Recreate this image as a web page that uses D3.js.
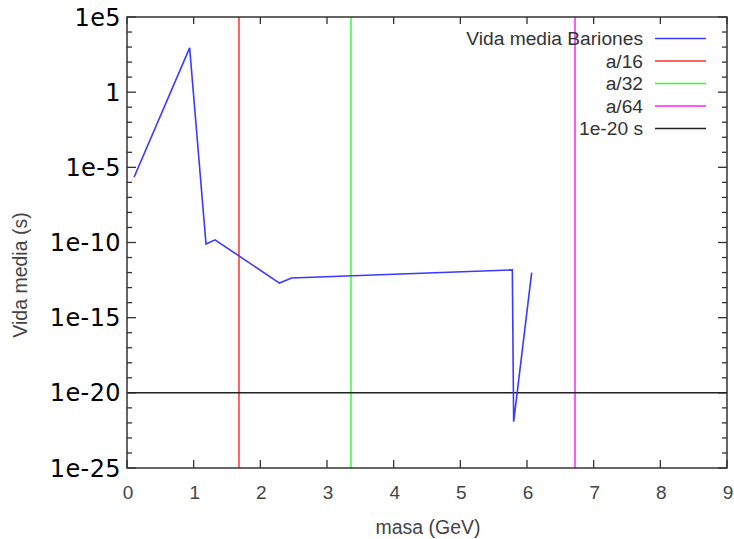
<!DOCTYPE html>
<html><head><meta charset="utf-8">
<script src="https://cdn.jsdelivr.net/npm/d3@7"></script>
<style>body{margin:0;background:#fff}svg{display:block}</style>
</head><body>
<svg id="c" width="734" height="539"></svg>
<script>
const masses = [0.1057, 0.9396, 1.185, 1.32, 2.286, 2.47, 5.78, 5.80, 6.07];
const lifetimes = [2.2e-6, 880, 8.0e-11, 1.5e-10, 2.0e-13, 4.4e-13, 1.5e-12, 1.2e-22, 1.0e-12];
const vlineX = [1.68, 3.36, 6.72];
const hlineY = 1e-20;
const xTicks = [0,1,2,3,4,5,6,7,8,9];
const yMajor = [1e5, 1, 1e-5, 1e-10, 1e-15, 1e-20, 1e-25];
const yMajorLabels = ["1e5","1","1e-5","1e-10","1e-15","1e-20","1e-25"];
const legendNames = ["Vida media Bariones","a/16","a/32","a/64","1e-20 s"];
const colors = ["#3a3aff","#ff3030","#30ff30","#ff20ff","#222222"];

const svg = d3.select("#c");
const L=127, R=727, T=17, B=468;
const x = d3.scaleLinear().domain([0,9]).range([L,R]);
const y = d3.scaleLog().domain([1e-25,1e5]).range([B,T]);

const decades = d3.range(-25,6).map(e=>Math.pow(10,e));
const g = svg.append("g");
decades.forEach(v=>{
  const major = yMajor.some(m=>Math.abs(Math.log10(m)-Math.log10(v))<1e-6);
  const len = major?9:5;
  g.append("line").attr("x1",L).attr("x2",L+len).attr("y1",y(v)).attr("y2",y(v)).attr("stroke","#333").attr("stroke-width",1.3);
  g.append("line").attr("x1",R).attr("x2",R-len).attr("y1",y(v)).attr("y2",y(v)).attr("stroke","#333").attr("stroke-width",1.3);
});
xTicks.forEach(v=>{
  g.append("line").attr("x1",x(v)).attr("x2",x(v)).attr("y1",B).attr("y2",B-8).attr("stroke","#333").attr("stroke-width",1.3);
  g.append("line").attr("x1",x(v)).attr("x2",x(v)).attr("y1",T).attr("y2",T+7).attr("stroke","#333").attr("stroke-width",1.3);
});

vlineX.forEach((v,i)=>{
  svg.append("line").attr("x1",x(v)).attr("x2",x(v)).attr("y1",T).attr("y2",B).attr("stroke",colors[i+1]).attr("stroke-width",1.5);
});
svg.append("line").attr("x1",L).attr("x2",R).attr("y1",y(hlineY)).attr("y2",y(hlineY)).attr("stroke",colors[4]).attr("stroke-width",1.5);

const pts = masses.map((m,i)=>[m,lifetimes[i]]);
svg.append("path").datum(pts)
  .attr("d", d3.line().x(d=>x(d[0])).y(d=>y(d[1])))
  .attr("fill","none").attr("stroke",colors[0]).attr("stroke-width",1.6).attr("stroke-linejoin","miter");

svg.append("path").attr("d",`M${L},${T}H${R}V${B}H${L}Z`).attr("fill","none").attr("stroke","#333").attr("stroke-width",1.5);

yMajor.forEach((v,i)=>{
  svg.append("text").attr("x",121).attr("y",y(v)).attr("dy","0.36em").attr("text-anchor","end")
    .attr("font-family","DejaVu Sans").attr("font-size",24).attr("letter-spacing",0.4).attr("fill","#000").text(yMajorLabels[i]);
});
xTicks.forEach(v=>{
  svg.append("text").attr("x",x(v)+1).attr("y",492).attr("dy","0.36em").attr("text-anchor","middle")
    .attr("font-family","Liberation Sans").attr("font-size",19).attr("fill","#444").text(v);
});
svg.append("text").attr("x",428).attr("y",527).attr("dy","0.36em").attr("text-anchor","middle")
  .attr("font-family","Liberation Sans").attr("font-size",19.5).attr("fill","#444").text("masa (GeV)");
svg.append("text").attr("transform","translate(20,275) rotate(-90)").attr("dy","0.36em").attr("text-anchor","middle")
  .attr("font-family","Liberation Sans").attr("font-size",19.5).attr("fill","#444").text("Vida media (s)");

legendNames.forEach((n,i)=>{
  const yy = 38.5 + i*22.5;
  svg.append("text").attr("x",643).attr("y",yy).attr("dy","0.36em").attr("text-anchor","end")
    .attr("font-family","Liberation Sans").attr("font-size",19.2).attr("fill","#333").text(n);
  svg.append("line").attr("x1",655).attr("x2",706).attr("y1",yy).attr("y2",yy).attr("stroke",colors[i]).attr("stroke-width",1.5);
});
</script>
</body></html>
